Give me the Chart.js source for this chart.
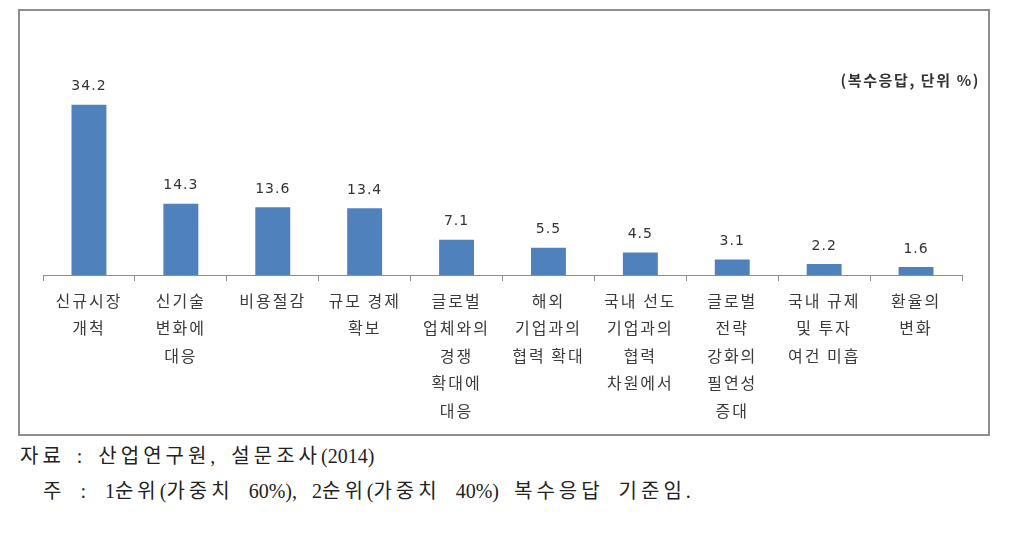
<!DOCTYPE html>
<html>
<head>
<meta charset="utf-8">
<script src="https://cdn.jsdelivr.net/npm/chart.js@4.4.0/dist/chart.umd.min.js"></script>
<style>
  body { margin: 0; background: #fff; width: 1016px; height: 541px; position: relative; overflow: hidden; }
  #box { position: absolute; left: 18px; top: 9px; width: 968px; height: 423px; border: 2px solid #8e8e8e; }
  #wrap { position: absolute; left: 19px; top: 10px; width: 970px; height: 425px; }
  #unit { position: absolute; right: 36px; top: 69px; font: bold 15px "Noto Sans CJK KR", sans-serif; color: #333; letter-spacing: 1.6px; }
  .note { position: absolute; font-family: "Liberation Serif", "Noto Sans CJK KR", serif; font-size: 20px; color: #222; letter-spacing: 4px; word-spacing: 2px; white-space: nowrap; }
  .note span { letter-spacing: 0; }
</style>
</head>
<body>
<div id="box"></div>
<div id="wrap"><canvas id="chart" width="970" height="425"></canvas></div>
<div id="unit">(복수응답, 단위 %)</div>
<div class="note" style="left:20px; top:440px; word-spacing:3px;">자료 : 산업연구원, 설문조사<span>(2014)</span></div>
<div class="note" style="left:43px; top:475px; word-spacing:6px;">주 : <span>1</span>순위<span>(</span>가중치 <span>60%),</span> <span>2</span>순위<span>(</span>가중치 <span>40%)</span> 복수응답 기준임.</div>
<script>
// categories and values
const categories = [
    ['신규시장', '개척'],
    ['신기술', '변화에', '대응'],
    ['비용절감'],
    ['규모 경제', '확보'],
    ['글로벌', '업체와의', '경쟁', '확대에', '대응'],
    ['해외', '기업과의', '협력 확대'],
    ['국내 선도', '기업과의', '협력', '차원에서'],
    ['글로벌', '전략', '강화의', '필연성', '증대'],
    ['국내 규제', '및 투자', '여건 미흡'],
    ['환율의', '변화']
];
const shares = [34.2, 14.3, 13.6, 13.4, 7.1, 5.5, 4.5, 3.1, 2.2, 1.6];

// draws the number above each bar
const valueLabels = {
    id: 'valueLabels',
    afterDatasetsDraw(chart) {
        const ctx = chart.ctx;
        const meta = chart.getDatasetMeta(0);
        ctx.save();
        ctx.letterSpacing = '1px';
        ctx.font = '14px "DejaVu Sans", sans-serif';
        ctx.fillStyle = '#333';
        ctx.textAlign = 'center';
        ctx.textBaseline = 'middle';
        meta.data.forEach((bar, i) => {
            ctx.fillText(shares[i].toFixed(1), bar.x, bar.y - 18);
        });
        ctx.restore();
    }
};

// wider spacing for the category labels
const spacing = {
    id: 'spacing',
    beforeDraw(chart) { chart.ctx.letterSpacing = '2px'; }
};

new Chart(document.getElementById('chart'), {
    type: 'bar',
    data: {
        labels: categories,
        datasets: [{
            data: shares,
            backgroundColor: '#4f81bd',
            barPercentage: 0.38,
            categoryPercentage: 1
        }]
    },
    options: {
        responsive: false,
        animation: false,
        layout: { padding: { top: 66, left: 24, right: 27, bottom: 0 } },
        plugins: { legend: { display: false }, tooltip: { enabled: false } },
        scales: {
            x: {
                afterFit(scale) { scale.height = 160; },
                border: { display: true, color: '#8e8e8e', width: 1 },
                grid: { offset: true, drawOnChartArea: false, drawTicks: true, tickLength: 6, color: '#8e8e8e' },
                ticks: {
                    autoSkip: false, maxRotation: 0, padding: 6,
                    color: '#3a3a3a',
                    font: { family: '"Noto Sans CJK KR", sans-serif', size: 16, lineHeight: 1.72 }
                }
            },
            y: { display: false, min: 0, max: 40 }
        }
    },
    plugins: [spacing, valueLabels]
});
</script>
</body>
</html>
